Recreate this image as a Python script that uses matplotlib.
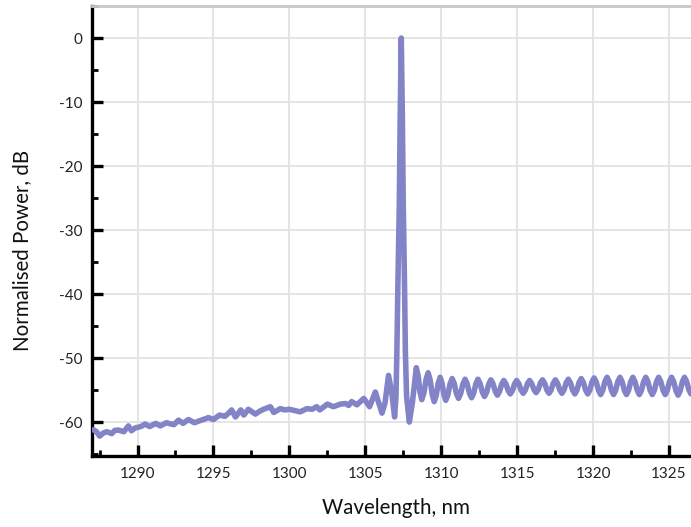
import matplotlib
matplotlib.use('Agg')  # headless
import matplotlib.pyplot as plt
from matplotlib.ticker import MultipleLocator

# Spectrum (wavelength in nm, power in dB)
wl_left = [1287.1, 1287.3, 1287.5, 1287.75, 1287.98, 1288.3, 1288.5, 1288.75,
           1289.1, 1289.4, 1289.6, 1289.85, 1290.07, 1290.3, 1290.5, 1290.8,
           1291.2, 1291.5, 1291.9, 1292.2, 1292.4, 1292.7, 1293.0, 1293.35,
           1293.75, 1294.2, 1294.45, 1294.67, 1295.0, 1295.4, 1295.75, 1296.0,
           1296.2, 1296.45, 1296.8, 1297.0, 1297.3, 1297.76, 1298.05, 1298.3,
           1298.75, 1298.97, 1299.4, 1299.7, 1300.0, 1300.35, 1300.7, 1301.16,
           1301.5, 1301.8, 1302.0, 1302.5, 1302.9, 1303.35, 1303.7, 1303.9,
           1304.1, 1304.45, 1304.9, 1305.28, 1305.66, 1306.1, 1306.3]
db_left = [-61.2, -61.5, -62.2, -61.7, -61.5, -61.8, -61.3, -61.25,
           -61.5, -60.6, -61.35, -60.9, -60.8, -60.6, -60.3, -60.7,
           -60.2, -60.6, -60.1, -60.3, -60.4, -59.7, -60.2, -59.6,
           -60.1, -59.7, -59.5, -59.3, -59.6, -58.9, -59.1, -58.6,
           -58.1, -59.2, -58.1, -58.9, -58.0, -58.75, -58.3, -58.0,
           -57.6, -58.5, -57.9, -58.1, -58.0, -58.2, -58.4, -57.9,
           -58.0, -57.6, -58.1, -57.2, -57.6, -57.2, -57.1, -57.4,
           -56.8, -57.3, -56.3, -57.6, -55.3, -58.6, -57.0]

# main transmission peak
wl_peak = [1306.53, 1306.75, 1306.93, 1307.02, 1307.08, 1307.15, 1307.24, 1307.30,
           1307.37, 1307.44, 1307.50, 1307.58, 1307.64, 1307.72, 1307.9, 1308.1]
db_peak = [-52.7, -55.5, -59.2, -56.0, -49.0, -38.0, -26.0, -12.0,
           0.0, -12.0, -26.0, -38.0, -49.0, -56.0, -60.0, -57.0]

# side-lobe ripple, one crest-to-crest period per row
wl_right = [
    1308.36, 1308.48, 1308.60, 1308.72, 1308.86, 1309.00,
    1309.14, 1309.27, 1309.41, 1309.54, 1309.67, 1309.80,
    1309.93, 1310.05, 1310.18, 1310.30, 1310.44, 1310.58,
    1310.72, 1310.86, 1311.00, 1311.14, 1311.28, 1311.43,
    1311.57, 1311.71, 1311.86, 1312.00, 1312.14, 1312.28,
    1312.42, 1312.56, 1312.71, 1312.85, 1312.99, 1313.13,
    1313.27, 1313.41, 1313.56, 1313.70, 1313.84, 1313.98,
    1314.12, 1314.26, 1314.41, 1314.55, 1314.69, 1314.83,
    1314.97, 1315.11, 1315.26, 1315.40, 1315.54, 1315.68,
    1315.82, 1315.96, 1316.11, 1316.25, 1316.39, 1316.53,
    1316.67, 1316.81, 1316.96, 1317.10, 1317.24, 1317.38,
    1317.52, 1317.66, 1317.81, 1317.95, 1318.09, 1318.23,
    1318.37, 1318.51, 1318.66, 1318.80, 1318.94, 1319.08,
    1319.22, 1319.36, 1319.51, 1319.65, 1319.79, 1319.93,
    1320.07, 1320.21, 1320.36, 1320.50, 1320.64, 1320.78,
    1320.92, 1321.06, 1321.21, 1321.35, 1321.49, 1321.63,
    1321.77, 1321.91, 1322.06, 1322.20, 1322.34, 1322.48,
    1322.62, 1322.76, 1322.91, 1323.05, 1323.19, 1323.33,
    1323.47, 1323.61, 1323.76, 1323.90, 1324.04, 1324.18,
    1324.32, 1324.46, 1324.61, 1324.75, 1324.89, 1325.03,
    1325.17, 1325.31, 1325.46, 1325.60, 1325.74, 1325.88,
    1326.02, 1326.16, 1326.31, 1326.45]
db_right = [
    -51.5, -52.75, -55.25, -56.5, -55.45, -53.35,
    -52.3, -53.4, -55.7, -56.8, -55.85, -53.95,
    -53.0, -53.9, -55.7, -56.6, -55.75, -54.05,
    -53.2, -53.98, -55.53, -56.3, -55.55, -54.05,
    -53.3, -54.03, -55.48, -56.2, -55.48, -54.03,
    -53.3, -53.98, -55.33, -56.0, -55.35, -54.05,
    -53.4, -54.0, -55.2, -55.8, -55.23, -54.08,
    -53.5, -54.03, -55.08, -55.6, -55.08, -54.03,
    -53.5, -54.0, -55.0, -55.5, -55.0, -54.0,
    -53.5, -53.98, -54.93, -55.4, -54.9, -53.9,
    -53.4, -53.93, -54.98, -55.5, -54.98, -53.93,
    -53.4, -53.93, -54.98, -55.5, -54.95, -53.85,
    -53.3, -53.88, -55.03, -55.6, -55.0, -53.8,
    -53.2, -53.8, -55.0, -55.6, -54.98, -53.73,
    -53.1, -53.75, -55.05, -55.7, -55.03, -53.68,
    -53.0, -53.68, -55.03, -55.7, -55.03, -53.68,
    -53.0, -53.68, -55.03, -55.7, -55.03, -53.68,
    -53.0, -53.68, -55.03, -55.7, -55.03, -53.68,
    -53.0, -53.68, -55.03, -55.7, -55.03, -53.68,
    -53.0, -53.68, -55.03, -55.7, -55.03, -53.68,
    -53.0, -53.7, -55.1, -55.8, -55.1, -53.7,
    -53.0, -53.65, -54.95, -55.6]

wavelength = wl_left + wl_peak + wl_right
power = db_left + db_peak + db_right

plt.rcParams['font.family'] = ['Lato', 'DejaVu Sans']
plt.rcParams['axes.unicode_minus'] = False  # plain hyphen like the original

fig = plt.figure(figsize=(6.91, 5.27), dpi=100)
ax = fig.add_axes([0.1331, 0.1347, 0.8669, 0.8539])

ax.plot(wavelength, power, color='#8383c8', lw=4.0,
        solid_joinstyle='round', solid_capstyle='round', zorder=3)

ax.set_xlim(1287.0, 1326.45)
ax.set_ylim(-65.3, 5.0)

ax.xaxis.set_major_locator(MultipleLocator(5))
ax.xaxis.set_minor_locator(MultipleLocator(2.5))
ax.yaxis.set_major_locator(MultipleLocator(10))
ax.yaxis.set_minor_locator(MultipleLocator(5))

ax.grid(True, which='major', color='#e2e2e2', lw=1.3, zorder=0)

ax.tick_params(which='both', direction='in', colors='black', labelcolor='#222222',
               labelsize=11)
ax.tick_params(which='major', length=8, width=2.4)
ax.tick_params(which='minor', length=4.5, width=2.0)
ax.tick_params(axis='x', pad=8)
ax.tick_params(axis='y', pad=7)

for side in ('left', 'bottom'):
    ax.spines[side].set_linewidth(2.4)
    ax.spines[side].set_color('black')
ax.spines['top'].set_color('#c8c8c8')
ax.spines['top'].set_linewidth(2.0)
ax.spines['right'].set_visible(False)

ax.set_xlabel('Wavelength, nm', fontsize=14.8, color='#111111')
ax.set_ylabel('Normalised Power, dB', fontsize=14.8, color='#111111')
ax.xaxis.set_label_coords(0.507, -0.093)
ax.yaxis.set_label_coords(-0.100, 0.456)

fig.savefig('out.png', dpi=100)
plt.close('all')
